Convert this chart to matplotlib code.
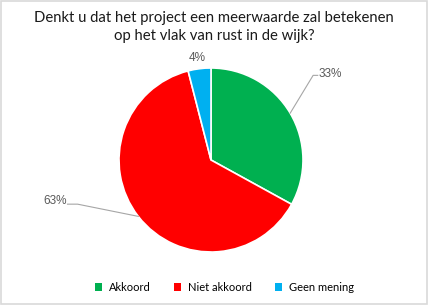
import matplotlib
matplotlib.use("Agg")
import matplotlib.pyplot as plt
from matplotlib.patches import Patch, Rectangle
import numpy as np

labels = ["Akkoord", "Niet akkoord", "Geen mening"]
values = [33, 63, 4]
colors = ["#00B050", "#FF0000", "#00B0F0"]
pct_labels = ["33%", "63%", "4%"]

W, H = 428, 305
fig = plt.figure(figsize=(W/100, H/100), dpi=100)
fig.patch.set_facecolor("white")
fig.add_artist(Rectangle((0.002, 0.003), 0.995, 0.994, transform=fig.transFigure,
                         fill=False, edgecolor="#D9D9D9", linewidth=1.2))

cx, cy, r = 211, 160, 92
ax = fig.add_axes([(cx - r)/W, (H - cy - r)/H, 2*r/W, 2*r/H])
wedges, _ = ax.pie(values, colors=colors, startangle=90, counterclock=False,
                   radius=1, wedgeprops=dict(edgecolor="white", linewidth=1.2))
ax.set_xlim(-1, 1); ax.set_ylim(-1, 1)
ax.set_aspect("equal")
ax.axis("off")

fig.text(0.5, 0.911, "Denkt u dat het project een meerwaarde zal betekenen\nop het vlak van rust in de wijk?",
         ha="center", va="center", fontsize=10.7, family="Lato", color="#1a1a1a", linespacing=1.4)

lab_kw = dict(fontsize=8.5, color="#595959", family="Liberation Sans")
line_kw = dict(color="#A6A6A6", lw=0.8, clip_on=False)

def edge(i):
    w = wedges[i]
    a = np.deg2rad((w.theta1 + w.theta2) / 2)
    return np.cos(a), np.sin(a)

# 33%
ex, ey = edge(0)
ax.plot([ex, 1.11, 1.16], [ey, 0.92, 0.92], **line_kw)
ax.text(1.17, 0.93, pct_labels[0], ha="left", va="center", **lab_kw)
# 63%
ex, ey = edge(1)
ax.plot([ex, -1.45, -1.56], [ey, -0.48, -0.48], **line_kw)
ax.text(-1.57, -0.45, pct_labels[1], ha="right", va="center", **lab_kw)
# 4%
ax.text(-0.15, 1.11, pct_labels[2], ha="center", va="center", **lab_kw)

handles = [Patch(facecolor=c, edgecolor="none", label=l) for c, l in zip(colors, labels)]
fig.legend(handles=handles, loc="center", bbox_to_anchor=(0.524, 0.058), ncol=3, frameon=False,
           handlelength=0.65, handleheight=0.65, columnspacing=2.1, handletextpad=0.6,
           prop=dict(family="Lato", size=8))

fig.savefig("out.png", dpi=100, facecolor="white")
